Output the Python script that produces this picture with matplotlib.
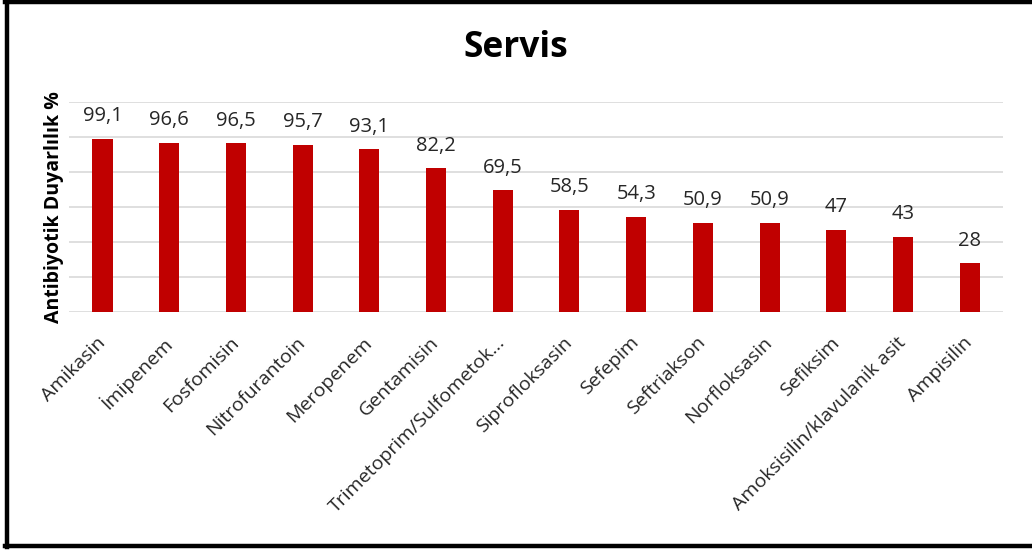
import matplotlib.pyplot as plt
from matplotlib.lines import Line2D

categories = ["Amikasin", "İmipenem", "Fosfomisin", "Nitrofurantoin", "Meropenem",
              "Gentamisin", "Trimetoprim/Sulfometok…", "Siprofloksasin", "Sefepim",
              "Seftriakson", "Norfloksasin", "Sefiksim", "Amoksisilin/klavulanik asit",
              "Ampisilin"]
values = [99.1, 96.6, 96.5, 95.7, 93.1, 82.2, 69.5, 58.5, 54.3, 50.9, 50.9, 47, 43, 28]
value_labels = ["99,1", "96,6", "96,5", "95,7", "93,1", "82,2", "69,5", "58,5", "54,3",
                "50,9", "50,9", "47", "43", "28"]

plt.rcParams['font.family'] = ['Open Sans', 'DejaVu Sans']
text_col = "#262626"

fig = plt.figure(figsize=(10.32, 5.5), dpi=100)
ax = fig.add_axes([0.067, 0.4327, 0.905, 0.3818])

x = range(len(categories))
bars = ax.bar(x, values, width=0.3, color="#C00000", zorder=3)

for b, lab in zip(bars, value_labels):
    ax.annotate(lab, (b.get_x() + b.get_width() / 2, b.get_height()),
                xytext=(0, 9), textcoords="offset points",
                ha="center", va="bottom", fontsize=14.5, color=text_col)

ax.set_xlim(-0.5, len(categories) - 0.5)
ax.set_ylim(0, 120)
ax.set_yticks(range(0, 121, 20))
ax.yaxis.grid(True, color="#D9D9D9", lw=1.2, zorder=0)
ax.tick_params(axis="y", length=0, labelleft=False)
ax.tick_params(axis="x", length=0, pad=20)
ax.set_xticks(list(x))
ax.set_xticklabels(categories, rotation=45, ha="right", va="center",
                   rotation_mode="anchor", fontsize=14, color=text_col)
for s in ax.spines.values():
    s.set_visible(False)

ax.set_ylabel("Antibiyotik Duyarlılık %", fontsize=14, fontweight="bold",
              color="black")
ax.yaxis.set_label_coords(-0.006, 0.5)

fig.text(0.5, 0.912, "Servis", ha="center", va="center", fontsize=25.5,
         fontweight="bold", color="black")

# outer frame (right edge cut off in the original)
lw = 3.2
fig.add_artist(Line2D([0.007, 0.007], [0.006, 0.996], color="black", lw=lw,
                      transform=fig.transFigure))
fig.add_artist(Line2D([0.005, 1.0], [0.996, 0.996], color="black", lw=lw,
                      transform=fig.transFigure))
fig.add_artist(Line2D([0.005, 1.0], [0.008, 0.008], color="black", lw=lw,
                      transform=fig.transFigure))

fig.savefig("out.png", dpi=100)
